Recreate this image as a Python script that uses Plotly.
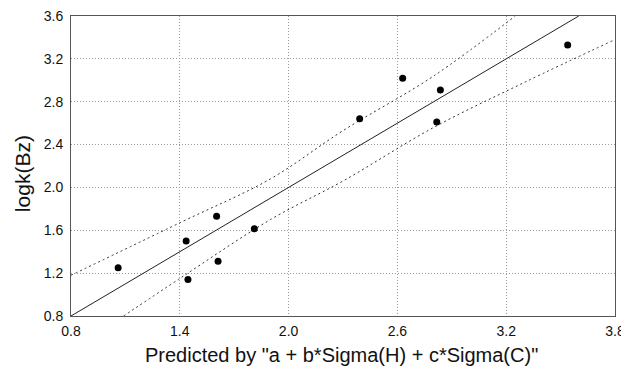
import plotly.graph_objects as go

# Observed data points
pred_x = [1.06, 1.435, 1.445, 1.603, 1.611, 1.811, 2.392, 2.629, 2.837, 2.817, 3.539]
logk_y = [1.25, 1.50, 1.14, 1.73, 1.31, 1.615, 2.64, 3.02, 2.91, 2.61, 3.33]

# Fitted (identity) line
fit_x = [0.8, 3.6]
fit_y = [0.8, 3.6]

# Confidence bands
upper_x = [0.8, 1.4, 1.9, 2.3, 2.8, 3.25]
upper_y = [1.18, 1.67, 2.08, 2.53, 3.04, 3.6]
lower_x = [1.09, 1.4, 1.9, 2.3, 2.8, 3.3, 3.8]
lower_y = [0.8, 1.15, 1.70, 2.06, 2.56, 2.98, 3.38]

x_ticks = [0.8, 1.4, 2.0, 2.6, 3.2, 3.8]
y_ticks = [0.8, 1.2, 1.6, 2.0, 2.4, 2.8, 3.2, 3.6]

x_title = 'Predicted by "a + b*Sigma(H) + c*Sigma(C)"'
y_title = "logk(Bz)"

FONT = "Liberation Sans, Arial, sans-serif"

fig = go.Figure()
fig.add_trace(go.Scatter(x=upper_x, y=upper_y, mode="lines", line_shape="spline",
                         line=dict(color="#333", width=1, dash="2px,3px"), showlegend=False))
fig.add_trace(go.Scatter(x=lower_x, y=lower_y, mode="lines", line_shape="spline",
                         line=dict(color="#333", width=1, dash="2px,3px"), showlegend=False))
fig.add_trace(go.Scatter(x=fit_x, y=fit_y, mode="lines",
                         line=dict(color="#222", width=1), showlegend=False))
fig.add_trace(go.Scatter(x=pred_x, y=logk_y, mode="markers",
                         marker=dict(color="black", size=7), showlegend=False))

axis_common = dict(
    showgrid=True, gridcolor="#999999", griddash="1px,2px", gridwidth=1,
    showline=True, linecolor="#555", linewidth=1, mirror=True,
    zeroline=False, ticks="", automargin=False, ticklabeloverflow="allow",
    tickfont=dict(family=FONT, size=14, color="#111"),
)

fig.update_xaxes(range=[0.8, 3.8], tickvals=x_ticks, ticktext=[f"{v:.1f}" for v in x_ticks],
                 ticklabelstandoff=2, **axis_common)
fig.update_yaxes(range=[0.8, 3.6], tickvals=y_ticks, ticktext=[f"{v:.1f}" for v in y_ticks],
                 ticklabelstandoff=4, **axis_common)

fig.add_annotation(text=x_title, xref="paper", yref="paper", x=0.497, y=-0.13,
                   xanchor="center", yanchor="middle", showarrow=False,
                   font=dict(family=FONT, size=20, color="#111"))
fig.add_annotation(text=y_title, xref="paper", yref="paper", x=-0.09, y=0.473,
                   xanchor="center", yanchor="middle", textangle=-90, showarrow=False,
                   font=dict(family=FONT, size=21, color="#111"))

# the page adds an 8px body margin, so the figure is offset by 8px
fig.update_layout(
    width=621, height=364,
    margin=dict(l=63, r=14, t=8, b=56),
    plot_bgcolor="white", paper_bgcolor="white",
)

fig.write_html("out.html")
